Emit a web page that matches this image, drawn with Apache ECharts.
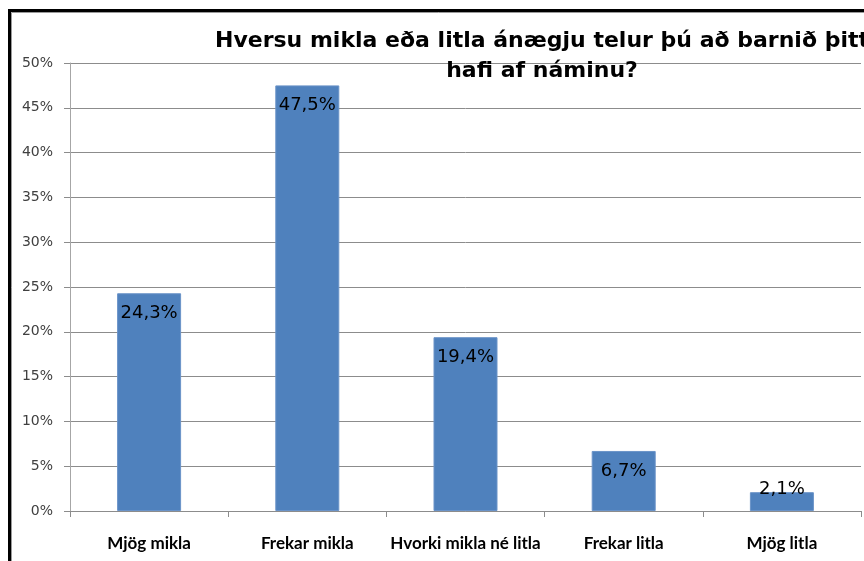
<!DOCTYPE html>
<html>
<head>
<meta charset="utf-8">
<script src="https://cdn.jsdelivr.net/npm/echarts@6/dist/echarts.min.js"></script>
<style>
html,body{margin:0;padding:0;background:#fff;}
#chart{width:864px;height:561px;}
</style>
</head>
<body>
<div id="chart"></div>
<script>
const titleText = 'Hversu mikla eða litla ánægju telur þú að barnið þitt\nhafi af náminu?';
const categories = ['Mjög mikla', 'Frekar mikla', 'Hvorki mikla né litla', 'Frekar litla', 'Mjög litla'];
const values = [24.3, 47.5, 19.4, 6.7, 2.1];
const yTicks = [0, 5, 10, 15, 20, 25, 30, 35, 40, 45, 50];

const chart = echarts.init(document.getElementById('chart'), null, {renderer: 'canvas'});
const fmt = v => v.toFixed(1).replace('.', ',') + '%';

const seriesData = values.map((v, i) => {
  const d = {value: v};
  if (v < 4) {
    d.label = {position: 'insideTop', distance: 0, offset: [0, -12]};
  }
  return d;
});

chart.setOption({
  backgroundColor: '#ffffff',
  animation: false,
  grid: {left: 70, right: 3, top: 63, bottom: 50, containLabel: false},
  xAxis: {
    type: 'category',
    data: categories,
    axisLine: {lineStyle: {color: '#8c8c8c', width: 1}},
    axisTick: {show: true, length: 6, alignWithLabel: false, lineStyle: {color: '#8c8c8c'}},
    axisLabel: {
      color: '#000',
      fontFamily: 'Lato',
      fontWeight: 'bold',
      fontSize: 17,
      margin: 24,
      interval: 0
    }
  },
  yAxis: {
    type: 'value',
    min: yTicks[0],
    max: yTicks[yTicks.length - 1],
    interval: 5,
    axisLine: {show: true, lineStyle: {color: '#a6a6a6', width: 1}},
    axisTick: {show: true, length: 6, lineStyle: {color: '#8c8c8c'}},
    splitLine: {show: true, lineStyle: {color: '#8c8c8c', width: 1}},
    axisLabel: {
      color: '#404040',
      fontFamily: 'DejaVu Sans',
      fontSize: 14,
      margin: 17,
      formatter: v => v + '%'
    }
  },
  series: [{
    type: 'bar',
    data: seriesData,
    barWidth: 64,
    itemStyle: {color: '#4f81bd', borderColor: '#6a93c8', borderWidth: 1},
    label: {
      show: true,
      position: 'insideTop',
      distance: 11,
      color: '#000',
      fontFamily: 'DejaVu Sans',
      fontSize: 18,
      formatter: p => fmt(p.value)
    }
  }],
  graphic: [
    {
      type: 'rect',
      shape: {x: 9.5, y: 10.5, width: 900, height: 600},
      style: {fill: 'none', stroke: '#000', lineWidth: 3},
      silent: true
    },
    {
      type: 'rect',
      shape: {x: 11.5, y: 12.5, width: 900, height: 600},
      style: {fill: 'none', stroke: '#9a9a9a', lineWidth: 1},
      silent: true
    },
    {
      type: 'text',
      x: 542,
      y: 26,
      style: {
        text: titleText,
        x: 0,
        y: 0,
        textAlign: 'center',
        textVerticalAlign: 'top',
        fontFamily: 'DejaVu Sans',
        fontWeight: 'bold',
        fontSize: 22,
        lineHeight: 30,
        fill: '#000'
      },
      silent: true,
      z: 100
    }
  ]
});
</script>
</body>
</html>
